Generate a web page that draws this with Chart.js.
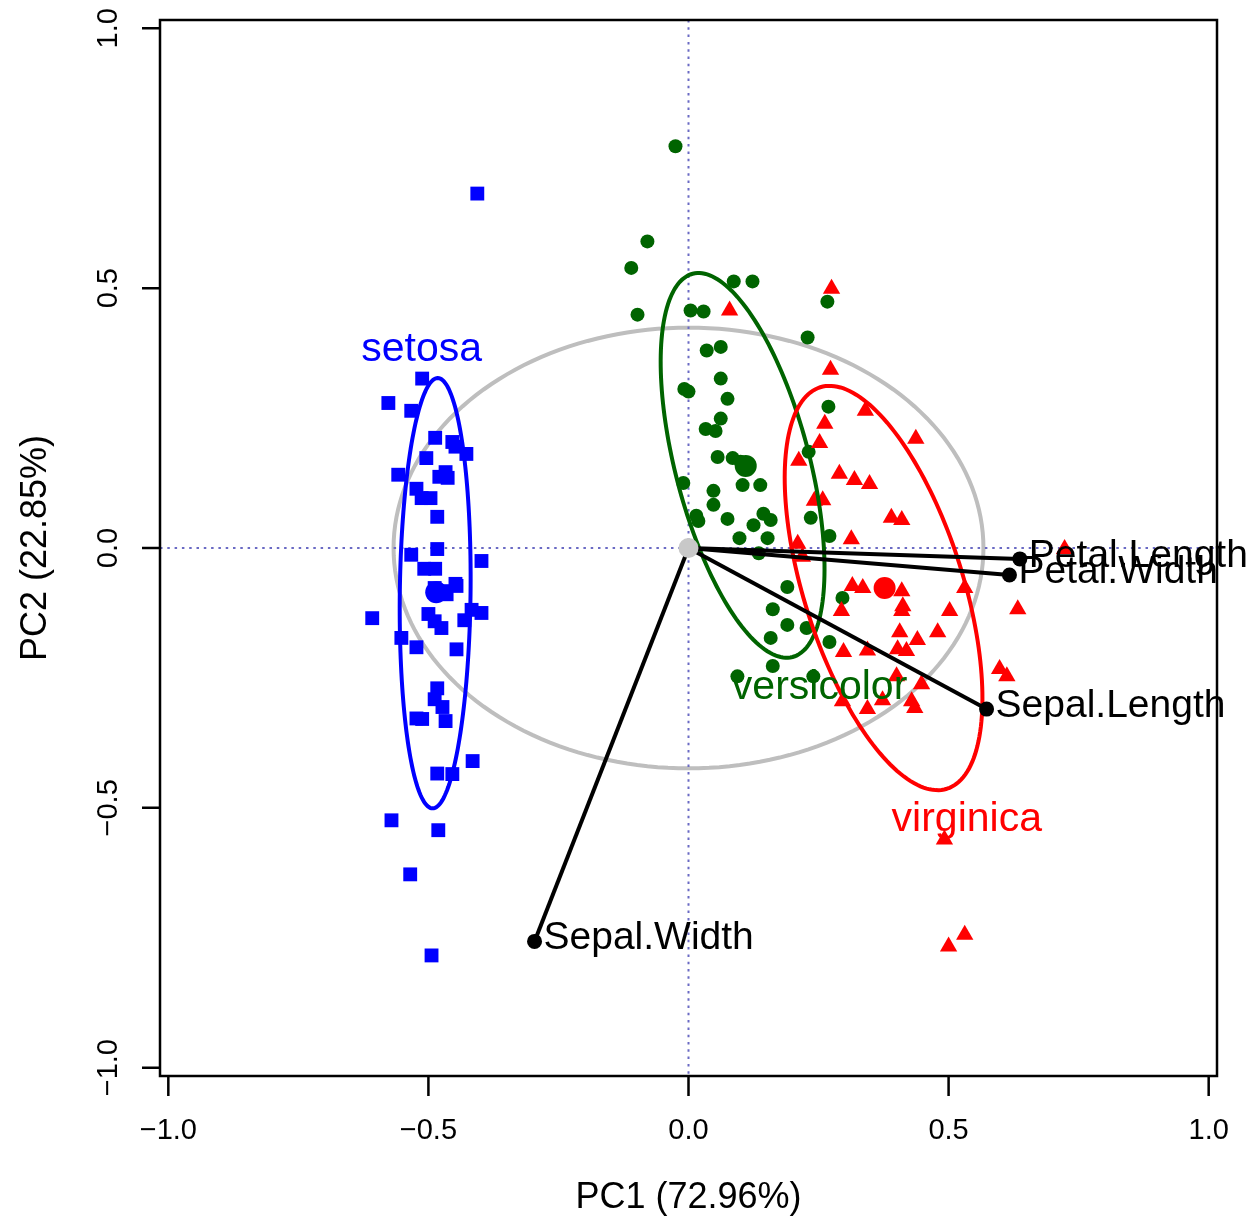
<!DOCTYPE html>
<html>
<head>
<meta charset="utf-8">
<script src="https://cdn.jsdelivr.net/npm/chart.js@4/dist/chart.umd.min.js"></script>
<style>
  html, body { margin: 0; padding: 0; background: #fff; }
  #biplot { display: block; }
</style>
</head>
<body>
<canvas id="biplot" width="1253" height="1222" style="width:1253px;height:1222px"></canvas>
<script>
// PC scores
const setosaX = [-0.406, -0.512, -0.577, -0.533, -0.487, -0.454, -0.448, -0.427, -0.504, -0.558,
  -0.467, -0.463, -0.479, -0.523, -0.513, -0.496, -0.483, -0.483, -0.533, -0.398,
  -0.508, -0.487, -0.448, -0.488, -0.446, -0.465, -0.473, -0.608, -0.500, -0.488,
  -0.475, -0.417, -0.398, -0.431, -0.552, -0.523, -0.446, -0.483, -0.488, -0.473,
  -0.523, -0.512, -0.467, -0.415, -0.483, -0.454, -0.571, -0.481, -0.535, -0.494];
const setosaY = [0.682, 0.326, 0.279, 0.264, 0.212, 0.204, 0.195, 0.181, 0.173, 0.141,
  0.146, 0.135, 0.137, 0.114, 0.096, 0.096, 0.060, -0.002, -0.013, -0.025,
  -0.040, -0.040, -0.069, -0.077, -0.073, -0.089, -0.083, -0.135, -0.127, -0.141,
  -0.154, -0.119, -0.125, -0.139, -0.173, -0.191, -0.195, -0.270, -0.291, -0.306,
  -0.328, -0.329, -0.333, -0.410, -0.434, -0.435, -0.524, -0.543, -0.628, -0.784];

const versicolorX = [-0.025, -0.079, -0.110, -0.098, 0.004, 0.029, 0.087, 0.123, 0.267, 0.229,
  0.035, 0.062, 0.062, -0.008, 0.000, 0.075, 0.062, 0.033, 0.052, 0.269,
  0.056, 0.085, 0.231, -0.010, 0.048, 0.104, 0.138, 0.048, 0.015, 0.019,
  0.075, 0.125, 0.144, 0.158, 0.235, 0.098, 0.152, 0.271, 0.135, 0.190,
  0.296, 0.162, 0.190, 0.227, 0.158, 0.271, 0.162, 0.094, 0.240, 0.100];
const versicolorY = [0.773, 0.590, 0.539, 0.449, 0.457, 0.455, 0.513, 0.513, 0.474, 0.405,
  0.380, 0.387, 0.326, 0.306, 0.301, 0.287, 0.249, 0.229, 0.225, 0.272,
  0.175, 0.173, 0.185, 0.125, 0.110, 0.121, 0.121, 0.083, 0.062, 0.052,
  0.056, 0.044, 0.066, 0.054, 0.058, 0.019, 0.019, 0.023, -0.010, -0.075,
  -0.096, -0.118, -0.148, -0.154, -0.173, -0.181, -0.227, -0.247, -0.247, 0.166];

const virginicaX = [0.079, 0.275, 0.273, 0.340, 0.262, 0.437, 0.252, 0.212, 0.290, 0.319,
  0.348, 0.242, 0.258, 0.390, 0.410, 0.210, 0.313, 0.219, 0.315, 0.335,
  0.410, 0.412, 0.410, 0.294, 0.502, 0.531, 0.633, 0.406, 0.479, 0.440,
  0.298, 0.344, 0.402, 0.419, 0.598, 0.612, 0.400, 0.448, 0.296, 0.429,
  0.373, 0.344, 0.435, 0.723, 0.492, 0.500, 0.531];
const virginicaY = [0.457, 0.499, 0.343, 0.264, 0.239, 0.210, 0.202, 0.168, 0.143, 0.131,
  0.123, 0.091, 0.092, 0.058, 0.054, 0.008, 0.017, -0.017, -0.073, -0.077,
  -0.083, -0.112, -0.121, -0.121, -0.121, -0.077, -0.118, -0.162, -0.162, -0.177,
  -0.200, -0.197, -0.195, -0.198, -0.233, -0.247, -0.247, -0.262, -0.295, -0.295,
  -0.293, -0.310, -0.308, -0.002, -0.561, -0.767, -0.744];

// group means (big dots)
const centroidX = [-0.485, 0.110, 0.377];
const centroidY = [-0.085, 0.158, -0.077];

// variable loadings
const arrowNames = ['Petal.Length', 'Petal.Width', 'Sepal.Length', 'Sepal.Width'];
const arrowX = [0.637, 0.617, 0.573, -0.296];
const arrowY = [-0.021, -0.052, -0.310, -0.757];

// group names and where they sit
const groupNames = ['setosa', 'versicolor', 'virginica'];
const groupLabelX = [-0.513, 0.252, 0.535];
const groupLabelY = [0.381, -0.268, -0.522];

// ellipses: centre x, centre y, semi-major, semi-minor, angle (deg)
const ellipseSetosa = [-0.487, -0.087, 0.414, 0.068, 89.3];
const ellipseVersicolor = [0.104, 0.159, 0.381, 0.129, -75.4];
const ellipseVirginica = [0.375, -0.077, 0.405, 0.153, -72.5];
const circleAll = [0, 0, 0.567, 0.424, 0];

const tickValues = [-1, -0.5, 0, 0.5, 1];
const tickLabels = ['\u22121.0', '\u22120.5', '0.0', '0.5', '1.0'];

const BLUE = '#0000FF', GREEN = '#006400', RED = '#FF0000';
const groupColors = [BLUE, GREEN, RED];
const FONT = '"Liberation Sans", Arial, Helvetica, sans-serif';

const pts = (xs, ys) => xs.map((x, i) => ({ x: x, y: ys[i] }));

function ellipsePath(ctx, xs, ys, e) {
  const [cx, cy, a, b, ang] = e;
  const t = ang * Math.PI / 180;
  ctx.beginPath();
  for (let i = 0; i <= 180; i++) {
    const s = i / 180 * 2 * Math.PI;
    const dx = a * Math.cos(s), dy = b * Math.sin(s);
    const px = xs.getPixelForValue(cx + dx * Math.cos(t) - dy * Math.sin(t));
    const py = ys.getPixelForValue(cy + dx * Math.sin(t) + dy * Math.cos(t));
    if (i === 0) ctx.moveTo(px, py); else ctx.lineTo(px, py);
  }
  ctx.closePath();
}

const decor = {
  id: 'decor',
  beforeDatasetsDraw(chart) {
    const { ctx, chartArea: a, scales: { x, y } } = chart;
    ctx.save();
    // big grey ellipse
    ctx.strokeStyle = '#BEBEBE';
    ctx.lineWidth = 4;
    ellipsePath(ctx, x, y, circleAll);
    ctx.stroke();
    // dotted zero lines
    ctx.strokeStyle = '#6A6AC4';
    ctx.lineWidth = 2;
    ctx.setLineDash([2.5, 4.8]);
    ctx.beginPath();
    ctx.moveTo(a.left, y.getPixelForValue(0));
    ctx.lineTo(a.right, y.getPixelForValue(0));
    ctx.moveTo(x.getPixelForValue(0), a.top);
    ctx.lineTo(x.getPixelForValue(0), a.bottom);
    ctx.stroke();
    ctx.restore();
  },
  afterDatasetDraw(chart, args) {
    // group ellipses go right over the centroids, under the arrows
    if (chart.data.datasets[args.index].label !== 'centroids') return;
    const { ctx, scales: { x, y } } = chart;
    ctx.save();
    ctx.lineWidth = 4;
    [ellipseSetosa, ellipseVersicolor, ellipseVirginica].forEach((e, i) => {
      ctx.strokeStyle = groupColors[i];
      ellipsePath(ctx, x, y, e);
      ctx.stroke();
    });
    ctx.restore();
  },
  afterDatasetsDraw(chart) {
    const { ctx, scales: { x, y } } = chart;
    ctx.save();
    ctx.fillStyle = '#000';
    ctx.font = '39px ' + FONT;
    ctx.textAlign = 'left';
    ctx.textBaseline = 'middle';
    arrowNames.forEach((name, i) => {
      ctx.fillText(name, x.getPixelForValue(arrowX[i]) + 9, y.getPixelForValue(arrowY[i]) - 3);
    });
    ctx.font = '41px ' + FONT;
    ctx.textAlign = 'center';
    groupNames.forEach((name, i) => {
      ctx.fillStyle = groupColors[i];
      ctx.fillText(name, x.getPixelForValue(groupLabelX[i]), y.getPixelForValue(groupLabelY[i]));
    });
    ctx.restore();
  },
  afterDraw(chart) {
    const { ctx, chartArea: a, scales: { x, y } } = chart;
    ctx.save();
    ctx.strokeStyle = '#000';
    ctx.fillStyle = '#000';
    ctx.lineWidth = 2.5;
    ctx.strokeRect(a.left, a.top, a.right - a.left, a.bottom - a.top);
    // x axis
    ctx.beginPath();
    tickValues.forEach(v => {
      const px = x.getPixelForValue(v);
      ctx.moveTo(px, a.bottom);
      ctx.lineTo(px, a.bottom + 20);
    });
    // y axis
    tickValues.forEach(v => {
      const py = y.getPixelForValue(v);
      ctx.moveTo(a.left, py);
      ctx.lineTo(a.left - 18, py);
    });
    ctx.stroke();
    ctx.font = '29px ' + FONT;
    ctx.textAlign = 'center';
    ctx.textBaseline = 'middle';
    tickValues.forEach((v, i) => {
      ctx.fillText(tickLabels[i], x.getPixelForValue(v), 1131);
      ctx.save();
      ctx.translate(109, y.getPixelForValue(v));
      ctx.rotate(-Math.PI / 2);
      ctx.fillText(tickLabels[i], 0, 0);
      ctx.restore();
    });
    ctx.font = '36px ' + FONT;
    ctx.fillText('PC1 (72.96%)', (a.left + a.right) / 2, 1198);
    ctx.save();
    ctx.translate(36, (a.top + a.bottom) / 2);
    ctx.rotate(-Math.PI / 2);
    ctx.fillText('PC2 (22.85%)', 0, 0);
    ctx.restore();
    ctx.restore();
  }
};

const arrowSets = arrowNames.map((name, i) => ({
  label: name,
  data: [{ x: 0, y: 0 }, { x: arrowX[i], y: arrowY[i] }],
  showLine: true,
  borderColor: '#000',
  borderWidth: 4,
  pointRadius: [0, 7.5],
  pointBackgroundColor: '#000',
  pointBorderWidth: 0,
  order: 5
}));

new Chart(document.getElementById('biplot'), {
  type: 'scatter',
  data: {
    datasets: [
      { label: 'setosa', data: pts(setosaX, setosaY), pointStyle: 'rect', pointRadius: 9.8,
        backgroundColor: BLUE, borderWidth: 0, order: 10 },
      { label: 'versicolor', data: pts(versicolorX, versicolorY), pointStyle: 'circle', pointRadius: 7,
        backgroundColor: GREEN, borderWidth: 0, order: 9 },
      { label: 'virginica', data: pts(virginicaX, virginicaY), pointStyle: 'triangle', pointRadius: 10,
        backgroundColor: RED, borderWidth: 0, order: 8 },
      { label: 'centroids', data: pts(centroidX, centroidY), pointStyle: 'circle', pointRadius: 11,
        backgroundColor: groupColors, borderWidth: 0, order: 7 },
      ...arrowSets,
      { label: 'origin', data: [{ x: 0, y: 0 }], pointRadius: 10,
        backgroundColor: '#C8C8C8', borderWidth: 0, order: 1 }
    ]
  },
  options: {
    responsive: false,
    animation: false,
    events: [],
    layout: { padding: { left: 160, top: 20, right: 36, bottom: 146 } },
    scales: {
      x: { type: 'linear', min: -1.016, max: 1.016, display: false },
      y: { type: 'linear', min: -1.016, max: 1.016, display: false }
    },
    plugins: { legend: { display: false }, tooltip: { enabled: false } }
  },
  plugins: [decor]
});
</script>
</body>
</html>
